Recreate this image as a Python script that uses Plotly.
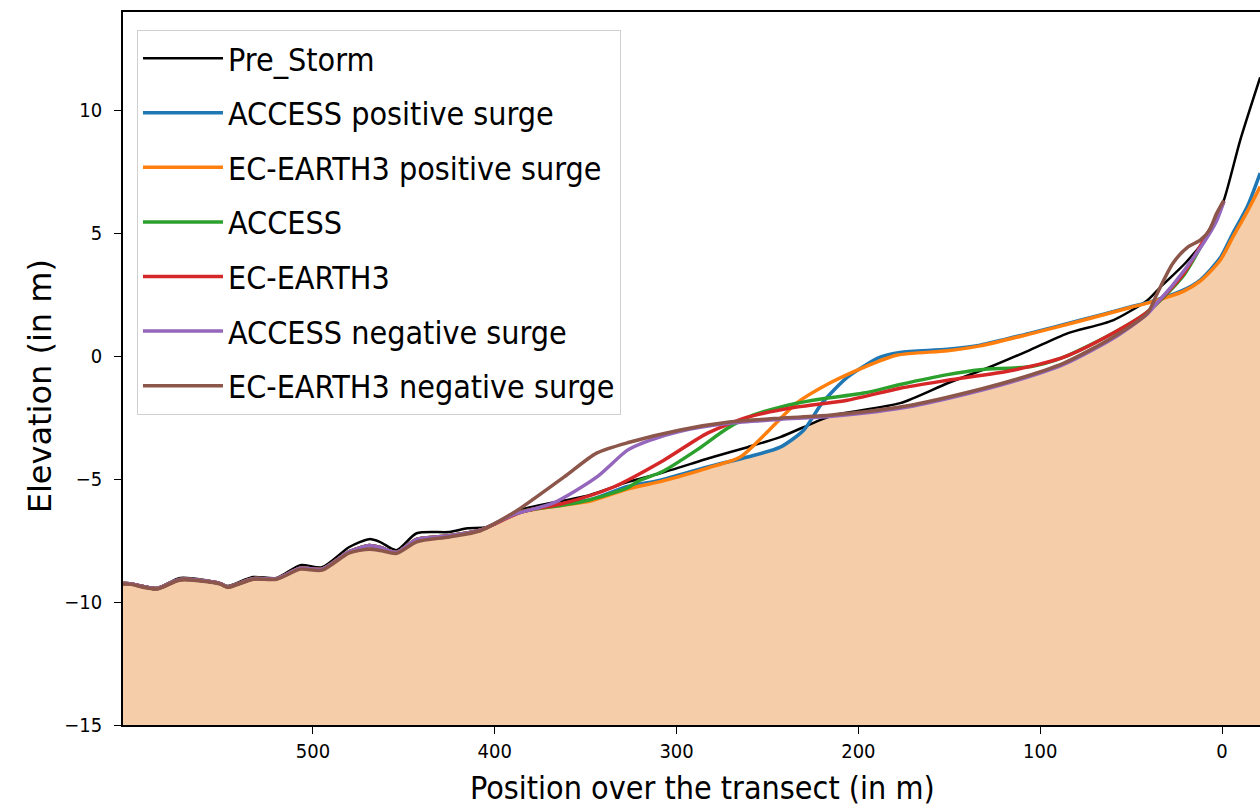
import numpy as np
import plotly.graph_objects as go

# ---------------- data (position in m, elevation in m) ----------------
left_x = [606, 601, 586, 573, 551, 547, 533, 520, 507, 495, 480, 469, 463, 454, 443, 425, 408]
left_model_y = [-9.25, -9.25, -9.45, -9.08, -9.25, -9.38, -9.05, -9.05, -8.62, -8.66,
                -7.95, -7.7, -7.78, -7.98, -7.45, -7.3, -7.08]
left_brown_y = [-9.27, -9.27, -9.47, -9.1, -9.27, -9.4, -9.07, -9.07, -8.66, -8.7,
                -8.0, -7.85, -7.9, -8.02, -7.55, -7.35, -7.1]

pre_storm_x = [606, 601, 586, 573, 551, 547, 533, 520, 507, 495, 480, 469, 463, 454, 443, 425, 415, 404,
               386, 348, 327, 309, 280, 261, 243, 225, 214, 177, 151, 128, 106, 85, 60, 41, 34, 20, 7, -1, -10, -21]
pre_storm_y = [-9.23, -9.23, -9.43, -9.02, -9.23, -9.35, -8.98, -9.02, -8.5, -8.58, -7.76, -7.44, -7.56, -7.89,
               -7.2, -7.15, -7.0, -6.95, -6.26, -5.65, -5.12, -4.76, -4.1, -3.7, -3.29, -2.72, -2.4, -1.91, -1.1,
               -0.45, 0.24, 0.93, 1.46, 2.28, 2.8, 3.8, 5.0, 6.34, 8.78, 11.34]

access_pos_x = left_x + [386, 362, 348, 327, 309, 283, 261, 243, 230, 220, 206, 188, 177, 151, 133, 106, 78,
                         51, 40, 21, 12, 1, -6, -14, -21]
access_pos_y = left_model_y + [-6.35, -6.0, -5.85, -5.3, -5.04, -4.5, -4.1, -3.7, -3.0, -1.91, -0.85, -0.04,
                               0.15, 0.28, 0.45, 0.93, 1.46, 1.99, 2.2, 2.7, 3.1, 4.0, 5.0, 6.1, 7.45]

ec_pos_x = left_x + [386, 362, 348, 327, 309, 283, 265, 249, 234, 216, 197, 179, 151, 133, 106, 78, 51, 40,
                     21, 12, 1, -6, -14, -21]
ec_pos_y = left_model_y + [-6.35, -6.05, -5.9, -5.4, -5.1, -4.55, -4.1, -3.0, -1.91, -1.1, -0.45, 0.04, 0.22,
                           0.42, 0.9, 1.43, 1.97, 2.18, 2.65, 3.05, 3.9, 4.85, 5.9, 6.9]

access_x = left_x + [386, 362, 348, 327, 320, 308, 289, 272, 258, 243, 225, 197, 177, 151, 133, 105, 87, 60,
                     41, 21, 7, -1]
access_y = left_model_y + [-6.33, -6.05, -5.85, -5.35, -5.04, -4.7, -3.82, -2.93, -2.4, -2.07, -1.79, -1.5,
                           -1.15, -0.75, -0.55, -0.42, -0.04, 0.93, 1.8, 3.3, 5.1, 6.3]

ec_x = left_x + [386, 362, 335, 307, 283, 261, 234, 206, 177, 151, 115, 87, 60, 41, 21, 7, 3, -1]
ec_y = left_model_y + [-6.35, -5.98, -5.33, -4.23, -3.13, -2.48, -2.07, -1.79, -1.3, -0.98, -0.57, -0.04,
                       0.93, 1.8, 3.37, 5.12, 5.6, 6.3]

access_neg_x = left_x + [390, 368, 344, 327, 316, 298, 271, 243, 216, 177, 151, 115, 87, 60, 41, 36, 27, 12,
                         3, -1]
access_neg_y = left_model_y + [-6.45, -5.98, -4.92, -3.82, -3.45, -3.05, -2.73, -2.57, -2.45, -2.12, -1.72,
                               -1.03, -0.33, 0.72, 1.72, 2.15, 2.9, 4.4, 5.5, 6.3]

ec_neg_x = left_x + [390, 385, 362, 344, 326, 298, 271, 243, 216, 177, 151, 115, 87, 60, 41, 36, 27, 19, 12,
                     7, 3, -1]
ec_neg_y = left_brown_y + [-6.38, -6.14, -4.92, -3.94, -3.5, -3.0, -2.68, -2.52, -2.4, -2.07, -1.67, -0.98,
                           -0.28, 0.77, 1.75, 2.5, 3.78, 4.43, 4.72, 5.12, 5.8, 6.34]

names = ["Pre_Storm", "ACCESS positive surge", "EC-EARTH3 positive surge", "ACCESS", "EC-EARTH3",
         "ACCESS negative surge", "EC-EARTH3 negative surge"]
colors = ["#000000", "#1f77b4", "#ff7f0e", "#2ca02c", "#d62728", "#9467bd", "#8c564b"]
series_x = [pre_storm_x, access_pos_x, ec_pos_x, access_x, ec_x, access_neg_x, ec_neg_x]
series_y = [pre_storm_y, access_pos_y, ec_pos_y, access_y, ec_y, access_neg_y, ec_neg_y]

x_tick_vals = [0, 100, 200, 300, 400, 500]
y_tick_vals = [-15, -10, -5, 0, 5, 10]
x_title = "Position over the transect (in m)"
y_title = "Elevation (in m)"

x_range = [604.5, -20.9]
y_range = [-15, 14]
bottom = -15

# ---------------- sediment fill below the lowest profile ----------------
grid = np.linspace(min(min(s) for s in series_x), max(max(s) for s in series_x), 1500)
env = np.full_like(grid, np.inf)
for sx, sy in zip(series_x, series_y):
    xs = np.array(sx[::-1], dtype=float)
    ys = np.array(sy[::-1], dtype=float)
    vals = np.interp(grid, xs, ys)
    mask = (grid >= xs.min()) & (grid <= xs.max())
    env = np.where(mask, np.minimum(env, vals), env)

fill_x = np.concatenate([grid, [grid[-1], grid[0]]])
fill_y = np.concatenate([env, [bottom, bottom]])

fig = go.Figure()
fig.add_trace(go.Scatter(x=fill_x, y=fill_y, mode="lines", fill="toself",
                         fillcolor="#f6cda9", line=dict(width=0, color="#f6cda9"),
                         showlegend=False, hoverinfo="skip"))

for i, (n, c, sx, sy) in enumerate(zip(names, colors, series_x, series_y)):
    fig.add_trace(go.Scatter(
        x=sx, y=sy, mode="lines", name=n, legendgroup=f"g{i}",
        line=dict(color=c, width=2.5 if i == 0 else 3.5, shape="spline", smoothing=0.7),
    ))

font_family = "DejaVu Sans Condensed, DejaVu Sans, sans-serif"

fig.update_layout(
    width=1260, height=812,
    margin=dict(l=123, r=0, t=12, b=87),
    paper_bgcolor="white", plot_bgcolor="white",
    font=dict(family=font_family, color="black"),
    showlegend=True,
    legend=dict(
        x=0.0123, y=0.975, xanchor="left", yanchor="top",
        bgcolor="rgba(255,255,255,0.85)", bordercolor="#d0d0d0", borderwidth=1,
        font=dict(size=32, family=font_family, color="black"),
        tracegroupgap=10, itemwidth=80,
    ),
    xaxis=dict(
        range=x_range, tickvals=x_tick_vals,
        ticks="outside", ticklen=7, tickwidth=1.2, tickcolor="black",
        showline=True, linecolor="black", linewidth=1.5, mirror=True,
        showgrid=False, zeroline=False,
        tickfont=dict(size=20, family=font_family),
    ),
    yaxis=dict(
        range=y_range, tickvals=y_tick_vals,
        ticks="outside", ticklen=7, tickwidth=1.2, tickcolor="black",
        ticklabelstandoff=8,
        showline=True, linecolor="black", linewidth=1.5, mirror=False,
        showgrid=False, zeroline=False,
        tickfont=dict(size=20, family=font_family),
    ),
    annotations=[
        dict(text=x_title, xref="paper", yref="paper", x=0.510, y=-0.089,
             xanchor="center", yanchor="middle", showarrow=False,
             font=dict(size=32, family=font_family, color="black")),
        dict(text=y_title, xref="paper", yref="paper", x=-0.073, y=0.475,
             xanchor="center", yanchor="middle", showarrow=False, textangle=-90,
             font=dict(size=32, family="DejaVu Sans, sans-serif", color="black")),
    ],
)

fig.write_html("out.html", config={"displayModeBar": False},
               post_script="document.body.style.margin='0';document.body.style.overflow='hidden';")
